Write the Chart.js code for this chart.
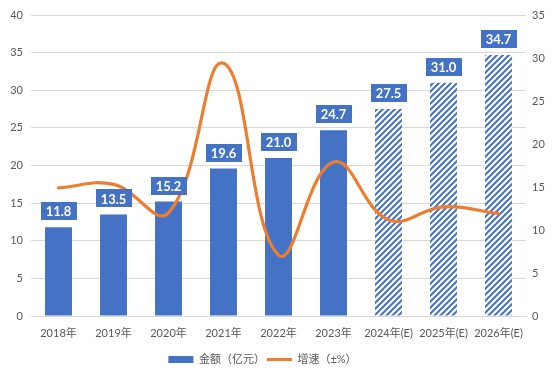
<!DOCTYPE html>
<html><head><meta charset="utf-8">
<script src="https://cdn.jsdelivr.net/npm/chart.js@4.4.1/dist/chart.umd.min.js"></script>
<style>html,body{margin:0;padding:0;background:#fff}#w{width:553px;height:377px}</style>
</head><body><div id="w"><canvas id="c"></canvas></div>
<script>
const categories = ['2018年','2019年','2020年','2021年','2022年','2023年','2024年(E)','2025年(E)','2026年(E)'];
const amounts = [11.8, 13.5, 15.2, 19.6, 21.0, 24.7, 27.5, 31.0, 34.7];
const growth = [14.9, 15.3, 12.0, 29.4, 7.1, 17.9, 11.2, 12.7, 11.9];
const estimated = [false, false, false, false, false, false, true, true, true];
const leftTicks = [0, 40, 5];
const rightTicks = [0, 35, 5];

const BLUE = '#4472C4', ORANGE = '#ED7D31', TXT = '#595959', GRID = '#d9d9d9';
const FONT = "Lato, 'Noto Sans CJK SC', sans-serif";

function hatch() {
  const s = 6, c = document.createElement('canvas');
  c.width = s; c.height = s;
  const x = c.getContext('2d');
  x.fillStyle = '#fff'; x.fillRect(0, 0, s, s);
  x.strokeStyle = BLUE; x.lineWidth = 2;
  x.beginPath();
  x.moveTo(-1, s + 1); x.lineTo(s + 1, -1);
  x.moveTo(-1, 1); x.lineTo(1, -1);
  x.moveTo(s - 1, s + 1); x.lineTo(s + 1, s - 1);
  x.stroke();
  return x.createPattern(c, 'repeat');
}
const pat = hatch();

const labelPlugin = {
  id: 'barLabels',
  afterLayout(chart) {
    if (chart.legend) { chart.legend.right -= 28; }
  },
  afterDatasetsDraw(chart) {
    const ctx = chart.ctx;
    const meta = chart.getDatasetMeta(0);
    ctx.save();
    ctx.font = "bold 13px " + FONT;
    ctx.textAlign = 'center'; ctx.textBaseline = 'middle';
    meta.data.forEach((bar, i) => {
      const t = amounts[i].toFixed(1);
      const w = ctx.measureText(t).width + 10;
      const h = 18;
      const bottom = bar.y - 7;
      ctx.fillStyle = BLUE;
      ctx.fillRect(Math.round(bar.x - w / 2), Math.round(bottom - h), Math.round(w), h);
      ctx.fillStyle = '#fff';
      ctx.fillText(t, bar.x, bottom - h / 2 + 1);
    });
    ctx.restore();
  }
};

new Chart(document.getElementById('c'), {
  type: 'bar',
  data: {
    labels: categories,
    datasets: [
      {
        label: '金额（亿元）', data: amounts, yAxisID: 'y', order: 1,
        backgroundColor: estimated.map(e => e ? pat : BLUE),
        borderWidth: 0, barPercentage: 0.98, categoryPercentage: 0.5
      },
      {
        type: 'line', label: '增速（±%）', data: growth, yAxisID: 'y1', order: 0,
        borderColor: ORANGE, backgroundColor: ORANGE, borderWidth: 3.2,
        pointRadius: 0, tension: 0.42, fill: false, pointStyle: 'line',
        borderCapStyle: 'round', borderJoinStyle: 'round'
      }
    ]
  },
  options: {
    responsive: true, maintainAspectRatio: false, animation: false,
    layout: { padding: { top: 15, bottom: 2, left: 0, right: 0 } },
    plugins: {
      tooltip: { enabled: false },
      legend: {
        position: 'bottom',
        labels: {
          color: TXT, font: { family: FONT, size: 11 },
          usePointStyle: true, pointStyleWidth: 25, boxHeight: 7, padding: 2,
          sort: (a, b) => a.datasetIndex - b.datasetIndex,
          generateLabels(chart) {
            const items = Chart.defaults.plugins.legend.labels.generateLabels(chart);
            items.forEach(it => {
              if (it.datasetIndex === 0) { it.pointStyle = 'rect'; it.fillStyle = BLUE; it.strokeStyle = BLUE; it.lineWidth = 0; }
              else { it.pointStyle = 'line'; it.strokeStyle = ORANGE; it.lineWidth = 3; }
            });
            return items;
          }
        }
      }
    },
    scales: {
      x: {
        grid: { display: false, drawTicks: false },
        border: { display: true, color: GRID },
        ticks: { color: TXT, font: { family: FONT, size: 11 }, padding: 11, maxRotation: 0, autoSkip: false },
        afterFit(s) { s.height = 36; }
      },
      y: {
        position: 'left', min: leftTicks[0], max: leftTicks[1],
        ticks: { stepSize: leftTicks[2], color: TXT, font: { family: FONT, size: 11 }, padding: 8 },
        grid: { color: GRID, drawTicks: false },
        border: { display: false },
        afterFit(s) { s.width = 31; }
      },
      y1: {
        position: 'right', min: rightTicks[0], max: rightTicks[1],
        ticks: { stepSize: rightTicks[2], color: TXT, font: { family: FONT, size: 11 }, padding: 6 },
        grid: { display: false, drawTicks: false },
        border: { display: false },
        afterFit(s) { s.width = 27; }
      }
    }
  },
  plugins: [labelPlugin]
});
</script></body></html>
